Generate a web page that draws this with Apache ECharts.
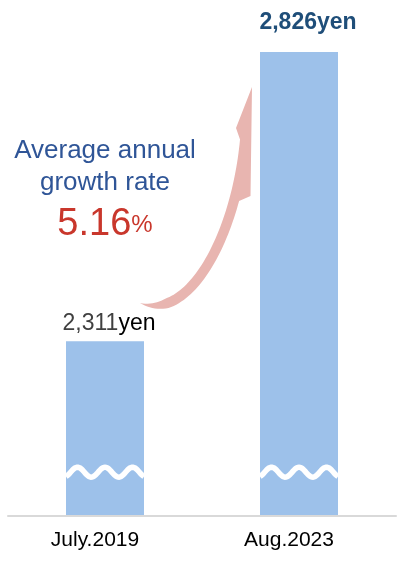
<!DOCTYPE html>
<html>
<head>
<meta charset="utf-8">
<script src="https://cdn.jsdelivr.net/npm/echarts@6/dist/echarts.min.js"></script>
<style>
  html, body { margin: 0; padding: 0; background: #ffffff; }
  #chart { width: 398px; height: 562px; }
</style>
</head>
<body>
<div id="chart"></div>
<script>
// Monthly price, two snapshots
const categories = ['July.2019', 'Aug.2023'];
const prices = [2311, 2826];
const unit = 'yen';
const growthRate = '5.16';
// truncated value axis (bars are drawn with a break mark)
const axisMin = 2000;
const axisMax = 2900;
const breakValue = 2078;

const FONT = '"Liberation Sans", Arial, sans-serif';
const BAR = '#9DC1EA';
const chart = echarts.init(document.getElementById('chart'), null, { renderer: 'canvas' });

const fmt = v => v.toLocaleString('en-US');

const seriesData = [
  {
    value: prices[0],
    label: {
      show: true, position: 'top', distance: 6, offset: [4, 0],
      formatter: '{n|' + fmt(prices[0]) + '}{u|' + unit + '}',
      rich: {
        n: { color: '#404040', fontSize: 23, fontFamily: FONT },
        u: { color: '#000000', fontSize: 23, fontFamily: FONT }
      }
    }
  },
  {
    value: prices[1],
    label: {
      show: true, position: 'top', distance: 18, offset: [9, 0],
      formatter: fmt(prices[1]) + unit,
      color: '#1F4E79', fontSize: 23, fontWeight: 'bold', fontFamily: FONT
    }
  }
];

chart.setOption({
  animation: false,
  grid: { left: 8, right: 2, top: 10.4, bottom: 46 },
  xAxis: {
    type: 'category',
    data: categories,
    axisLine: { lineStyle: { color: '#D9D9D9', width: 2 } },
    axisTick: { show: false },
    axisLabel: { color: '#000000', fontSize: 21, fontFamily: FONT, margin: 14, padding: [0, 20, 0, 0] },
    z: 5
  },
  yAxis: { type: 'value', min: axisMin, max: axisMax, show: false },
  series: [{
    type: 'bar',
    barWidth: 78,
    itemStyle: { color: BAR },
    data: seriesData
  }]
});

// Break marks: a white wavy line across each bar
const graphics = [];
categories.forEach((c) => {
  const [cx, cy] = chart.convertToPixel({ gridIndex: 0 }, [c, breakValue]);
  const pts = [];
  const P = 27.5, A = 5;
  for (let x = cx - 39; x <= cx + 39; x += 1) {
    pts.push([x, cy - A * Math.cos(2 * Math.PI * (x - cx) / P)]);
  }
  graphics.push({
    type: 'polyline', z: 10,
    shape: { points: pts },
    style: { stroke: '#ffffff', lineWidth: 5.5, fill: null }
  });
});

// Curved growth arrow: a tapered band along a cubic centre line, plus a slim head
const P0 = [140, 303], P1 = [190, 322], P2 = [236, 235], P3 = [245, 140];
function bez(t) {
  const u = 1 - t;
  return [
    u * u * u * P0[0] + 3 * u * u * t * P1[0] + 3 * u * t * t * P2[0] + t * t * t * P3[0],
    u * u * u * P0[1] + 3 * u * u * t * P1[1] + 3 * u * t * t * P2[1] + t * t * t * P3[1]
  ];
}
function bezD(t) {
  const u = 1 - t;
  return [
    3 * u * u * (P1[0] - P0[0]) + 6 * u * t * (P2[0] - P1[0]) + 3 * t * t * (P3[0] - P2[0]),
    3 * u * u * (P1[1] - P0[1]) + 6 * u * t * (P2[1] - P1[1]) + 3 * t * t * (P3[1] - P2[1])
  ];
}
const N = 60, inner = [], outer = [];
for (let k = 0; k <= N; k++) {
  const t = k / N;
  const p = bez(t), d = bezD(t);
  const len = Math.hypot(d[0], d[1]);
  const nx = d[1] / len, ny = -d[0] / len; // points to the upper-left side
  const half = 0.5 * 10 * Math.min(1, t / 0.18);
  inner.push([p[0] + nx * half, p[1] + ny * half]);
  outer.push([p[0] - nx * half, p[1] - ny * half]);
}
const arrowPts = inner
  .concat([[236, 128], [252, 87], [250.5, 196]])
  .concat(outer.reverse().filter(q => q[1] >= 197));
graphics.push({
  type: 'polygon', z: 8,
  shape: { points: arrowPts },
  style: { fill: '#E8B5B0' }
});

// Growth-rate annotation
graphics.push({
  type: 'text', z: 9,
  style: { text: 'Average annual', x: 105, y: 151, align: 'center', verticalAlign: 'middle', font: '26px ' + FONT, fill: '#2F5597' }
});
graphics.push({
  type: 'text', z: 9,
  style: { text: 'growth rate', x: 105, y: 182.5, align: 'center', verticalAlign: 'middle', font: '26px ' + FONT, fill: '#2F5597' }
});
graphics.push({
  type: 'text', z: 9,
  style: {
    text: '{a|' + growthRate + '}{b|%}', x: 105, y: 225, align: 'center', verticalAlign: 'middle',
    rich: {
      a: { fontSize: 38, fontFamily: FONT, fill: '#C9372C' },
      b: { fontSize: 24, fontFamily: FONT, fill: '#C9372C' }
    }
  }
});

chart.setOption({ graphic: graphics });
</script>
</body>
</html>
